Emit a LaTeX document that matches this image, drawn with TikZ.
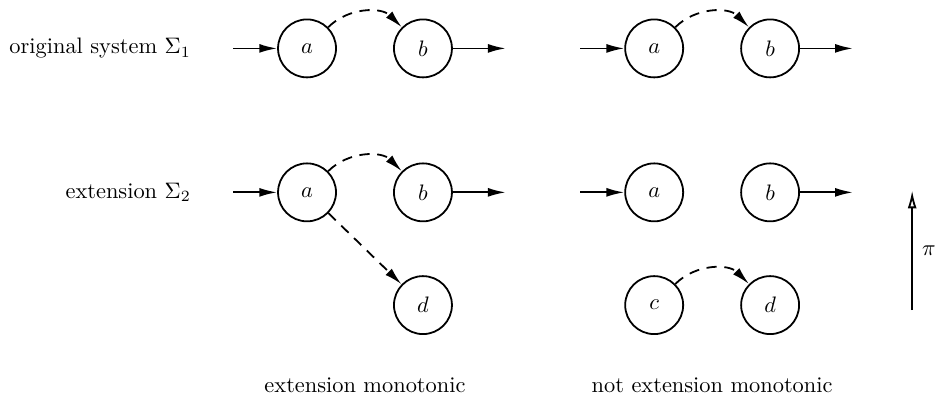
\documentclass[tikz,border=0pt]{standalone}
\usepackage{amsmath,amssymb}
\usetikzlibrary{arrows.meta}

\begin{document}
\begin{tikzpicture}[
    state/.style={circle, draw, line width=0.8pt, minimum size=0.91cm, inner sep=0pt},
    flow/.style={line width=0.8pt, -{Latex[length=2.8mm,width=1.4mm]}},
    link/.style={flow, dashed, dash pattern=on 1.6mm off 1.2mm}
]
    \useasboundingbox (0,0) rectangle (14.71,6.30);

    % Row labels
    \node[anchor=east] (lorig) at (3.12,5.54) {original system $\Sigma_1$};
    \node[anchor=east] (lext)  at (3.12,3.28) {extension $\Sigma_2$};

    % Left: extension monotonic
    \node[state] (a1) at (4.82,5.54) {$a$};
    \node[state] (b1) at (6.64,5.54) {$b$};
    \node[state] (a2) at (4.82,3.28) {$a$};
    \node[state] (b2) at (6.64,3.28) {$b$};
    \node[state] (d2) at (6.64,1.51) {$d$};

    % Right: not extension monotonic
    \node[state] (a3) at (10.27,5.54) {$a$};
    \node[state] (b3) at (12.09,5.54) {$b$};
    \node[state] (a4) at (10.27,3.28) {$a$};
    \node[state] (b4) at (12.09,3.28) {$b$};
    \node[state] (c4) at (10.27,1.51) {$c$};
    \node[state] (d4) at (12.09,1.51) {$d$};

    % Free ends of the in/out arrows
    \coordinate (in1)  at (3.66,5.54);
    \coordinate (out1) at (7.94,5.54);
    \coordinate (in2)  at (3.66,3.28);
    \coordinate (out2) at (7.94,3.28);
    \coordinate (in3)  at (9.11,5.54);
    \coordinate (out3) at (13.39,5.54);
    \coordinate (in4)  at (9.11,3.28);
    \coordinate (out4) at (13.39,3.28);

    \foreach \k in {1,2,3,4} {
        \draw[flow] (in\k) -- (a\k);
        \draw[flow] (b\k) -- (out\k);
    }

    % Dashed transitions
    \draw[link] (a1) to[bend left=45] (b1);
    \draw[link] (a2) to[bend left=45] (b2);
    \draw[link] (a2) -- (d2);
    \draw[link] (a3) to[bend left=45] (b3);
    \draw[link] (c4) to[bend left=45] (d4);

    % Projection
    \coordinate (pilo) at (14.32,1.43);
    \coordinate (pihi) at (14.32,3.31);
    \draw[line width=0.8pt, -{Latex[open,length=2.8mm,width=1.4mm]}] (pilo) -- (pihi)
        node[midway, right=3pt, inner sep=1pt] (pi) {$\pi$};

    % Captions
    \node (cleft)  at (5.73,0.25)  {extension monotonic};
    \node (cright) at (11.18,0.25) {not extension monotonic};
\end{tikzpicture}
\end{document}
